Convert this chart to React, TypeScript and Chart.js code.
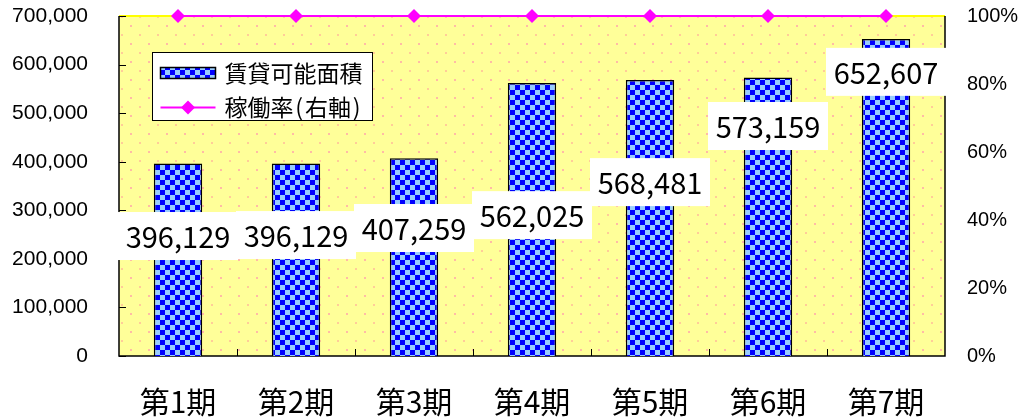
import React, { useEffect, useRef } from "react";
import { Chart, registerables } from "chart.js";
Chart.register(...registerables);

const categories = ["第1期", "第2期", "第3期", "第4期", "第5期", "第6期", "第7期"];
const leasableArea = [396129, 396129, 407259, 562025, 568481, 573159, 652607];
const occupancyRate = [100, 100, 100, 100, 100, 100, 100];
// where each value label box sits, in left-axis units
const labelAnchorValues = [247000, 249000, 263500, 290000, 358000, 473500, 585000];
const barSeriesName = "賃貸可能面積";
const lineSeriesName = "稼働率(右軸)";

const JP = "'Noto Sans CJK JP', 'Noto Sans', sans-serif";
const LAT = "'Liberation Sans', Arial, sans-serif";

function makeChecker(): CanvasPattern | string {
  const c = document.createElement("canvas");
  c.width = 10;
  c.height = 10;
  const g = c.getContext("2d");
  if (!g) return "#0000FF";
  g.fillStyle = "#99CCFF";
  g.fillRect(0, 0, 10, 10);
  g.fillStyle = "#0000FF";
  g.fillRect(0, 0, 5, 5);
  g.fillRect(5, 5, 5, 5);
  return g.createPattern(c, "repeat") || "#0000FF";
}

function makeDots(): CanvasPattern | string {
  const c = document.createElement("canvas");
  c.width = 18;
  c.height = 18;
  const g = c.getContext("2d");
  if (!g) return "#FFFF99";
  g.fillStyle = "#FFFF99";
  g.fillRect(0, 0, 18, 18);
  g.fillStyle = "#FFBBA6";
  g.fillRect(4, 7, 2, 2);
  g.fillStyle = "#FFCC99";
  g.fillRect(13, 16, 2, 2);
  return g.createPattern(c, "repeat") || "#FFFF99";
}

// draw text with half-width ASCII / full-width CJK advances (gothic monospace look)
function drawMono(ctx: CanvasRenderingContext2D, text: string, x: number, y: number, em: number) {
  let cx = x;
  ctx.textAlign = "center";
  for (const ch of text) {
    const adv = ch.charCodeAt(0) < 256 ? em / 2 : em;
    ctx.fillText(ch, cx + adv / 2, y);
    cx += adv;
  }
}

export default function App() {
  const ref = useRef<HTMLCanvasElement>(null);

  useEffect(() => {
    const canvas = ref.current;
    if (!canvas) return;
    const checker = makeChecker();
    const dots = makeDots();

    const decor = {
      id: "decor",
      beforeDatasetsDraw(chart: any) {
        const { ctx, chartArea: a } = chart;
        ctx.save();
        ctx.fillStyle = dots;
        ctx.fillRect(a.left, a.top, a.right - a.left, a.bottom - a.top);
        // top border
        ctx.strokeStyle = "#FFFF00";
        ctx.lineWidth = 2;
        ctx.beginPath();
        ctx.moveTo(a.left, a.top);
        ctx.lineTo(a.right, a.top);
        ctx.stroke();
        // other borders
        ctx.strokeStyle = "#000";
        ctx.lineWidth = 1.5;
        ctx.beginPath();
        ctx.moveTo(a.left, a.top);
        ctx.lineTo(a.left, a.bottom);
        ctx.lineTo(a.right, a.bottom);
        ctx.lineTo(a.right, a.top);
        ctx.stroke();
        // inside ticks on left axis
        const ys = chart.scales.y;
        ctx.lineWidth = 1;
        ctx.beginPath();
        ys.ticks.forEach((t: any) => {
          const y = Math.round(ys.getPixelForValue(t.value)) + 0.5;
          ctx.moveTo(a.left, y);
          ctx.lineTo(a.left + 7, y);
        });
        // category boundary ticks
        const n = categories.length;
        const w = (a.right - a.left) / n;
        for (let i = 1; i < n; i++) {
          const x = Math.round(a.left + i * w) + 0.5;
          ctx.moveTo(x, a.bottom);
          ctx.lineTo(x, a.bottom - 7);
        }
        ctx.stroke();
        ctx.restore();
      },
      afterDatasetsDraw(chart: any) {
        const { ctx, chartArea: a } = chart;
        const ys = chart.scales.y;
        const meta = chart.getDatasetMeta(1);
        ctx.save();
        // value labels
        ctx.font = `29px ${JP}`;
        ctx.textAlign = "center";
        ctx.textBaseline = "middle";
        leasableArea.forEach((v, i) => {
          const el = meta.data[i];
          const x = el.x;
          const y = ys.getPixelForValue(labelAnchorValues[i]);
          ctx.fillStyle = "#FFFFFF";
          ctx.fillRect(x - 60, y - 24, 120, 48);
          ctx.fillStyle = "#000";
          ctx.fillText(v.toLocaleString("en-US"), x, y + 1);
        });
        // legend
        const lx = a.left + 33.5;
        const ly = a.top + 36.5;
        ctx.fillStyle = "#FFFFFF";
        ctx.fillRect(lx, ly, 220, 68);
        ctx.strokeStyle = "#000";
        ctx.lineWidth = 1;
        ctx.strokeRect(lx, ly, 220, 68);
        // bar entry
        ctx.fillStyle = checker;
        ctx.fillRect(lx + 8, ly + 15, 55, 11);
        ctx.lineWidth = 1.5;
        ctx.strokeRect(lx + 8, ly + 15, 55, 11);
        ctx.fillStyle = "#000";
        ctx.font = `23px ${JP}`;
        ctx.textBaseline = "middle";
        drawMono(ctx, barSeriesName, lx + 72, ly + 21, 23);
        // line entry
        const my = ly + 55;
        ctx.strokeStyle = "#FF00FF";
        ctx.lineWidth = 2;
        ctx.beginPath();
        ctx.moveTo(lx + 8, my);
        ctx.lineTo(lx + 63, my);
        ctx.stroke();
        ctx.fillStyle = "#FF00FF";
        ctx.beginPath();
        const cx = lx + 35.5;
        ctx.moveTo(cx, my - 7);
        ctx.lineTo(cx + 7, my);
        ctx.lineTo(cx, my + 7);
        ctx.lineTo(cx - 7, my);
        ctx.closePath();
        ctx.fill();
        ctx.fillStyle = "#000";
        drawMono(ctx, lineSeriesName, lx + 72, my, 23);
        ctx.restore();
      },
    };

    const chart = new Chart(canvas, {
      data: {
        labels: categories,
        datasets: [
          {
            type: "line",
            label: lineSeriesName,
            data: occupancyRate,
            yAxisID: "y2",
            borderColor: "#FF00FF",
            backgroundColor: "#FF00FF",
            borderWidth: 2,
            pointStyle: "rectRot",
            pointRadius: 7,
            pointBorderWidth: 0,
            order: 0,
            clip: false,
          } as any,
          {
            type: "bar",
            label: barSeriesName,
            data: leasableArea,
            yAxisID: "y",
            backgroundColor: checker,
            borderColor: "#000",
            borderWidth: 1.5,
            barPercentage: 0.41,
            categoryPercentage: 1,
            order: 1,
          } as any,
        ],
      },
      options: {
        animation: false,
        responsive: false,
        layout: { padding: { top: 16, left: 0, right: 0, bottom: 0 } },
        plugins: { legend: { display: false }, tooltip: { enabled: false } },
        scales: {
          x: {
            grid: { display: false, drawTicks: false },
            border: { display: false },
            ticks: { font: { family: JP, size: 30 }, color: "#000", padding: 28, maxRotation: 0 },
            afterFit: (s: any) => {
              s.height = 62;
              s.paddingLeft = 0;
              s.paddingRight = 0;
            },
          },
          y: {
            position: "left",
            min: 0,
            max: 700000,
            grid: { display: false, drawTicks: false },
            border: { display: false },
            ticks: {
              stepSize: 100000,
              callback: (v: any) => Number(v).toLocaleString("en-US"),
              font: { family: LAT, size: 21 },
              color: "#000",
              padding: 31,
            },
            afterFit: (s: any) => {
              s.width = 119;
              s.paddingTop = 0;
              s.paddingBottom = 0;
            },
          },
          y2: {
            position: "right",
            min: 0,
            max: 100,
            grid: { display: false, drawTicks: false },
            border: { display: false },
            ticks: {
              stepSize: 20,
              callback: (v: any) => `${v}%`,
              font: { family: LAT, size: 20 },
              color: "#000",
              padding: 22,
            },
            afterFit: (s: any) => {
              s.width = 73;
              s.paddingTop = 0;
              s.paddingBottom = 0;
            },
          },
        },
      } as any,
      plugins: [decor],
    });
    return () => chart.destroy();
  }, []);

  return (
    <div style={{ position: "fixed", left: 0, top: 0, width: 1018, height: 418, background: "#fff" }}>
      <canvas ref={ref} width={1018} height={418} style={{ width: 1018, height: 418, display: "block" }} />
    </div>
  );
}
